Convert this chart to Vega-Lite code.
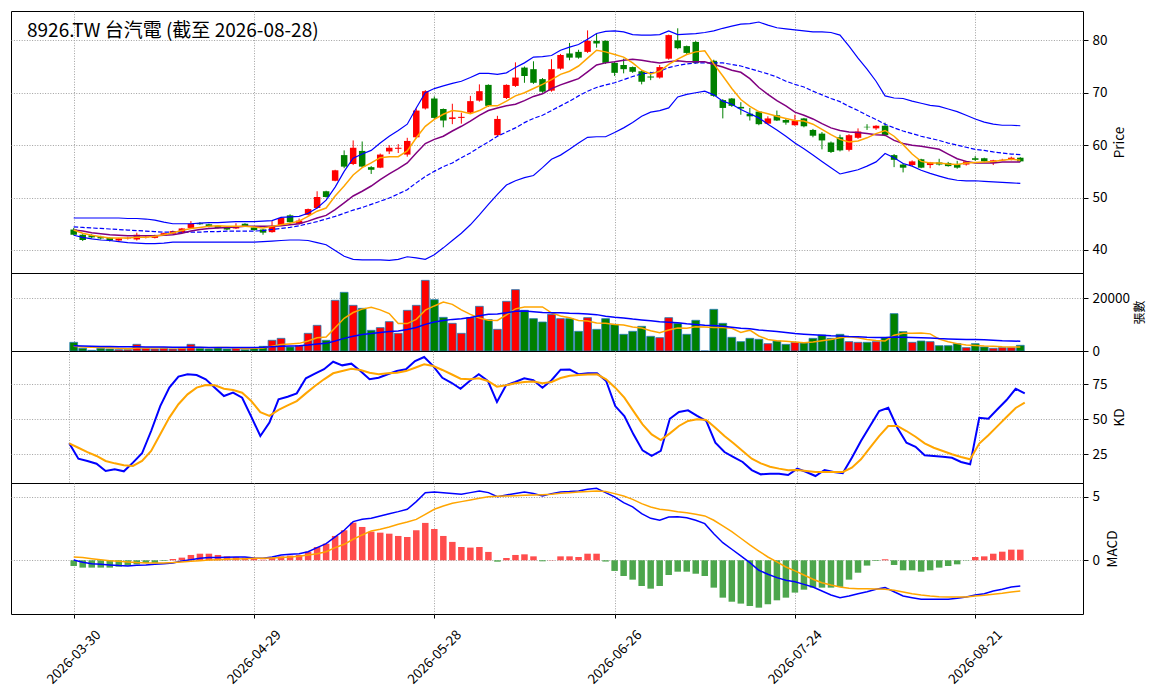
{
  "$schema": "https://vega.github.io/schema/vega-lite/v6.json",
  "background": "white",
  "padding": {"left": 10, "top": 10, "right": 5, "bottom": 5},
  "autosize": {"type": "pad"},
  "spacing": 0,
  "bounds": "flush",
  "config": {
    "font": "Noto Sans CJK TC",
    "view": {"stroke": "black", "strokeWidth": 1},
    "axis": {
      "domain": false,
      "gridColor": "#a0a0a0",
      "gridDash": [1, 1.6],
      "gridWidth": 1,
      "tickColor": "black",
      "tickSize": 5,
      "labelColor": "black",
      "labelFontSize": 13.5,
      "labelFlush": false,
      "labelOverlap": false,
      "titleColor": "black",
      "titleFontSize": 13.5,
      "titleFontWeight": "normal",
      "titleBaseline": "top"
    }
  },
  "datasets": {
    "px": [
      {"i":0,"o":43.9,"h":44.2,"l":42.8,"c":42.9,"v":3290,"m5":43.8,"m10":43.8,"mid":44.4,"up":46.1,"lo":42.8,"v5":1770,"v20":2000,"k":32.7,"d":32.7,"dif":0.02,"dea":0.26,"hs":-0.45},
      {"i":1,"o":42.9,"h":43.0,"l":41.7,"c":41.9,"v":1010,"m5":43.2,"m10":43.6,"mid":44.3,"up":46.1,"lo":42.4,"v5":1500,"v20":1900,"k":21.6,"d":29.5,"dif":-0.16,"dea":0.21,"hs":-0.58},
      {"i":2,"o":42.8,"h":43.0,"l":42.2,"c":42.4,"v":250,"m5":42.8,"m10":43.3,"mid":44.2,"up":46.1,"lo":42.1,"v5":1400,"v20":1800,"k":20.0,"d":26.4,"dif":-0.27,"dea":0.13,"hs":-0.58},
      {"i":3,"o":42.5,"h":42.7,"l":42.0,"c":42.2,"v":1010,"m5":42.5,"m10":43.1,"mid":44.1,"up":46.1,"lo":41.9,"v5":1300,"v20":1700,"k":18.0,"d":23.6,"dif":-0.32,"dea":0.05,"hs":-0.58},
      {"i":4,"o":42.3,"h":42.4,"l":41.6,"c":41.8,"v":760,"m5":42.3,"m10":42.9,"mid":44.0,"up":46.1,"lo":41.8,"v5":1200,"v20":1700,"k":12.8,"d":20.0,"dif":-0.37,"dea":-0.03,"hs":-0.58},
      {"i":5,"o":41.8,"h":42.3,"l":41.6,"c":42.2,"v":500,"m5":42.3,"m10":42.8,"mid":43.9,"up":46.1,"lo":41.6,"v5":1000,"v20":1600,"k":14.0,"d":18.3,"dif":-0.42,"dea":-0.08,"hs":-0.5},
      {"i":6,"o":42.2,"h":42.5,"l":42.0,"c":42.3,"v":500,"m5":42.3,"m10":42.7,"mid":43.8,"up":46.0,"lo":41.4,"v5":900,"v20":1600,"k":12.6,"d":16.9,"dif":-0.45,"dea":-0.13,"hs":-0.42},
      {"i":7,"o":42.0,"h":43.3,"l":41.8,"c":42.9,"v":2530,"m5":42.4,"m10":42.7,"mid":43.7,"up":46.0,"lo":41.3,"v5":1100,"v20":1600,"k":18.8,"d":16.4,"dif":-0.4,"dea":-0.18,"hs":-0.32},
      {"i":8,"o":42.4,"h":42.7,"l":42.2,"c":42.5,"v":1010,"m5":42.4,"m10":42.7,"mid":43.6,"up":45.9,"lo":41.2,"v5":1100,"v20":1500,"k":25.5,"d":20.0,"dif":-0.37,"dea":-0.21,"hs":-0.21},
      {"i":9,"o":42.3,"h":42.9,"l":42.2,"c":42.8,"v":760,"m5":42.6,"m10":42.7,"mid":43.5,"up":45.7,"lo":41.2,"v5":1100,"v20":1500,"k":41.5,"d":27.2,"dif":-0.32,"dea":-0.21,"hs":-0.21},
      {"i":10,"o":42.8,"h":43.3,"l":42.7,"c":43.2,"v":1010,"m5":42.9,"m10":42.8,"mid":43.4,"up":45.3,"lo":41.3,"v5":1200,"v20":1500,"k":59.4,"d":39.1,"dif":-0.27,"dea":-0.21,"hs":-0.05},
      {"i":11,"o":43.1,"h":43.7,"l":43.0,"c":43.6,"v":760,"m5":43.3,"m10":42.9,"mid":43.4,"up":45.0,"lo":41.5,"v5":1200,"v20":1400,"k":72.6,"d":51.1,"dif":-0.21,"dea":-0.18,"hs":0.1},
      {"i":12,"o":43.3,"h":44.2,"l":43.2,"c":44.1,"v":1010,"m5":43.7,"m10":43.2,"mid":43.4,"up":45.0,"lo":41.5,"v5":1100,"v20":1400,"k":80.5,"d":60.7,"dif":-0.05,"dea":-0.13,"hs":0.21},
      {"i":13,"o":44.2,"h":45.5,"l":44.1,"c":45.0,"v":2530,"m5":44.1,"m10":43.6,"mid":43.4,"up":45.0,"lo":41.5,"v5":1300,"v20":1400,"k":82.2,"d":67.8,"dif":0.05,"dea":-0.08,"hs":0.42},
      {"i":14,"o":45.1,"h":45.3,"l":44.8,"c":44.9,"v":1010,"m5":44.3,"m10":43.9,"mid":43.4,"up":45.1,"lo":41.5,"v5":1300,"v20":1400,"k":81.7,"d":72.6,"dif":0.16,"dea":-0.03,"hs":0.52},
      {"i":15,"o":44.9,"h":45.0,"l":44.3,"c":44.5,"v":760,"m5":44.5,"m10":44.1,"mid":43.5,"up":45.2,"lo":41.5,"v5":1200,"v20":1300,"k":78.6,"d":74.5,"dif":0.21,"dea":0.02,"hs":0.52},
      {"i":16,"o":44.6,"h":44.7,"l":44.1,"c":44.2,"v":1265,"m5":44.6,"m10":44.2,"mid":43.5,"up":45.2,"lo":41.5,"v5":1300,"v20":1300,"k":72.6,"d":74.3,"dif":0.21,"dea":0.05,"hs":0.42},
      {"i":17,"o":44.3,"h":44.4,"l":43.8,"c":43.9,"v":760,"m5":44.5,"m10":44.3,"mid":43.6,"up":45.3,"lo":41.5,"v5":1300,"v20":1300,"k":66.6,"d":71.8,"dif":0.24,"dea":0.08,"hs":0.31},
      {"i":18,"o":44.1,"h":45.1,"l":44.0,"c":44.5,"v":1010,"m5":44.5,"m10":44.4,"mid":43.6,"up":45.4,"lo":41.5,"v5":1100,"v20":1300,"k":69.0,"d":70.9,"dif":0.26,"dea":0.1,"hs":0.26},
      {"i":19,"o":45.0,"h":45.1,"l":44.4,"c":44.5,"v":500,"m5":44.5,"m10":44.5,"mid":43.6,"up":45.4,"lo":41.5,"v5":900,"v20":1300,"k":65.4,"d":69.0,"dif":0.26,"dea":0.13,"hs":0.21},
      {"i":20,"o":44.3,"h":44.4,"l":43.7,"c":43.8,"v":1265,"m5":44.4,"m10":44.5,"mid":43.6,"up":45.4,"lo":41.5,"v5":1000,"v20":1300,"k":51.8,"d":63.0,"dif":0.18,"dea":0.16,"hs":0.1},
      {"i":21,"o":43.9,"h":44.0,"l":42.9,"c":43.3,"v":1770,"m5":44.2,"m10":44.5,"mid":43.7,"up":45.5,"lo":41.6,"v5":1100,"v20":1400,"k":37.9,"d":55.1,"dif":0.16,"dea":0.16,"hs":0.05},
      {"i":22,"o":43.4,"h":45.5,"l":43.3,"c":44.6,"v":4050,"m5":44.5,"m10":44.5,"mid":43.9,"up":45.6,"lo":41.7,"v5":1800,"v20":1600,"k":47.5,"d":52.3,"dif":0.26,"dea":0.18,"hs":0.21},
      {"i":23,"o":44.7,"h":46.3,"l":44.6,"c":46.1,"v":4800,"m5":44.8,"m10":44.6,"mid":44.1,"up":46.2,"lo":41.8,"v5":2500,"v20":1800,"k":64.2,"d":56.6,"dif":0.42,"dea":0.21,"hs":0.31},
      {"i":24,"o":46.6,"h":46.8,"l":45.2,"c":45.3,"v":1518,"m5":45.1,"m10":44.8,"mid":44.3,"up":46.3,"lo":41.9,"v5":2700,"v20":1900,"k":66.1,"d":59.9,"dif":0.47,"dea":0.26,"hs":0.37},
      {"i":25,"o":45.0,"h":46.0,"l":44.9,"c":45.6,"v":2000,"m5":45.5,"m10":45.0,"mid":44.6,"up":46.4,"lo":41.9,"v5":2900,"v20":2000,"k":68.5,"d":63.0,"dif":0.52,"dea":0.31,"hs":0.42},
      {"i":26,"o":46.7,"h":47.9,"l":46.6,"c":47.8,"v":6705,"m5":46.4,"m10":45.5,"mid":45.0,"up":47.0,"lo":41.8,"v5":3800,"v20":2300,"k":79.3,"d":68.5,"dif":0.68,"dea":0.42,"hs":0.68},
      {"i":27,"o":48.0,"h":51.2,"l":47.9,"c":50.1,"v":9740,"m5":47.4,"m10":46.1,"mid":45.4,"up":48.0,"lo":41.4,"v5":5000,"v20":2700,"k":82.6,"d":73.8,"dif":1.0,"dea":0.52,"hs":1.05},
      {"i":28,"o":51.2,"h":51.3,"l":50.0,"c":50.1,"v":4050,"m5":48.0,"m10":46.6,"mid":45.9,"up":49.5,"lo":41.0,"v5":5300,"v20":2900,"k":85.8,"d":78.6,"dif":1.31,"dea":0.68,"hs":1.31},
      {"i":29,"o":53.2,"h":55.3,"l":53.1,"c":55.2,"v":19230,"m5":50.3,"m10":47.7,"mid":46.4,"up":52.0,"lo":39.9,"v5":8800,"v20":3800,"k":91.2,"d":82.9,"dif":1.84,"dea":1.0,"hs":1.92},
      {"i":30,"o":58.1,"h":59.0,"l":55.6,"c":55.9,"v":22260,"m5":52.2,"m10":49.0,"mid":47.0,"up":55.0,"lo":38.8,"v5":12400,"v20":4800,"k":88.6,"d":84.5,"dif":2.37,"dea":1.26,"hs":2.37},
      {"i":31,"o":56.4,"h":60.9,"l":56.2,"c":59.5,"v":17330,"m5":54.3,"m10":50.3,"mid":47.6,"up":57.5,"lo":38.2,"v5":14600,"v20":5600,"k":89.8,"d":86.2,"dif":3.05,"dea":1.66,"hs":2.97},
      {"i":32,"o":58.9,"h":60.7,"l":55.7,"c":55.9,"v":16190,"m5":55.7,"m10":51.2,"mid":48.1,"up":58.3,"lo":38.1,"v5":15900,"v20":6300,"k":84.5,"d":85.3,"dif":3.23,"dea":2.0,"hs":2.63},
      {"i":33,"o":55.8,"h":56.0,"l":54.5,"c":55.3,"v":7840,"m5":56.6,"m10":52.2,"mid":48.7,"up":59.0,"lo":38.1,"v5":16600,"v20":6600,"k":78.6,"d":83.3,"dif":3.31,"dea":2.32,"hs":2.26},
      {"i":34,"o":55.7,"h":58.4,"l":55.6,"c":58.2,"v":8860,"m5":57.6,"m10":53.4,"mid":49.3,"up":60.4,"lo":38.1,"v5":15600,"v20":7000,"k":79.7,"d":82.2,"dif":3.5,"dea":2.45,"hs":2.18},
      {"i":35,"o":58.8,"h":60.0,"l":58.3,"c":59.5,"v":11130,"m5":57.8,"m10":54.5,"mid":49.9,"up":61.7,"lo":38.0,"v5":14200,"v20":7400,"k":82.2,"d":82.9,"dif":3.68,"dea":2.63,"hs":2.1},
      {"i":36,"o":59.3,"h":60.2,"l":58.5,"c":59.5,"v":6705,"m5":57.8,"m10":55.5,"mid":50.7,"up":62.8,"lo":38.2,"v5":10400,"v20":7600,"k":84.5,"d":83.3,"dif":3.84,"dea":2.84,"hs":1.92},
      {"i":37,"o":58.2,"h":61.4,"l":57.8,"c":60.8,"v":15430,"m5":58.9,"m10":56.6,"mid":51.5,"up":64.0,"lo":38.7,"v5":10400,"v20":8200,"k":85.8,"d":84.5,"dif":4.03,"dea":3.02,"hs":1.84},
      {"i":38,"o":61.5,"h":67.0,"l":61.3,"c":66.6,"v":17330,"m5":61.4,"m10":58.5,"mid":52.8,"up":67.1,"lo":38.5,"v5":12000,"v20":8900,"k":91.7,"d":86.9,"dif":4.63,"dea":3.23,"hs":2.37},
      {"i":39,"o":67.0,"h":70.5,"l":66.8,"c":70.3,"v":26810,"m5":63.6,"m10":60.3,"mid":54.0,"up":70.0,"lo":38.2,"v5":15500,"v20":10100,"k":94.6,"d":89.3,"dif":5.34,"dea":3.63,"hs":2.95},
      {"i":40,"o":68.9,"h":69.3,"l":65.0,"c":65.2,"v":19480,"m5":64.9,"m10":61.1,"mid":55.0,"up":70.8,"lo":39.1,"v5":17100,"v20":11000,"k":88.1,"d":88.1,"dif":5.39,"dea":4.03,"hs":2.47},
      {"i":41,"o":66.9,"h":67.0,"l":63.4,"c":64.7,"v":12770,"m5":65.9,"m10":61.7,"mid":55.9,"up":71.3,"lo":40.4,"v5":18600,"v20":11600,"k":79.7,"d":85.3,"dif":5.34,"dea":4.29,"hs":1.92},
      {"i":42,"o":65.0,"h":67.9,"l":64.0,"c":65.3,"v":10500,"m5":66.6,"m10":62.7,"mid":56.6,"up":71.8,"lo":41.8,"v5":17700,"v20":12000,"k":76.1,"d":82.2,"dif":5.28,"dea":4.5,"hs":1.45},
      {"i":43,"o":65.2,"h":66.2,"l":64.1,"c":65.4,"v":6705,"m5":66.4,"m10":63.6,"mid":57.6,"up":72.2,"lo":43.2,"v5":15600,"v20":12200,"k":71.8,"d":79.0,"dif":5.21,"dea":4.63,"hs":1.05},
      {"i":44,"o":66.2,"h":69.4,"l":66.0,"c":68.4,"v":12650,"m5":66.0,"m10":64.6,"mid":58.5,"up":72.9,"lo":44.8,"v5":13900,"v20":12700,"k":77.4,"d":78.6,"dif":5.34,"dea":4.76,"hs":1.0},
      {"i":45,"o":68.5,"h":71.6,"l":68.3,"c":70.3,"v":16950,"m5":66.6,"m10":65.7,"mid":59.6,"up":73.7,"lo":46.7,"v5":12500,"v20":13400,"k":82.2,"d":79.3,"dif":5.47,"dea":4.9,"hs":1.05},
      {"i":46,"o":71.5,"h":71.6,"l":67.3,"c":67.5,"v":11890,"m5":67.5,"m10":66.6,"mid":60.6,"up":73.7,"lo":48.7,"v5":11700,"v20":13900,"k":77.4,"d":77.4,"dif":5.34,"dea":5.02,"hs":0.66},
      {"i":47,"o":61.9,"h":65.6,"l":61.7,"c":65.0,"v":8220,"m5":67.5,"m10":67.1,"mid":61.7,"up":73.5,"lo":50.6,"v5":11600,"v20":14000,"k":62.3,"d":73.3,"dif":5.02,"dea":5.05,"hs":-0.11},
      {"i":48,"o":69.0,"h":71.6,"l":68.8,"c":71.5,"v":18840,"m5":68.4,"m10":67.5,"mid":62.5,"up":73.8,"lo":52.4,"v5":13700,"v20":14500,"k":74.3,"d":74.3,"dif":5.15,"dea":5.07,"hs":0.18},
      {"i":49,"o":71.3,"h":75.8,"l":71.1,"c":72.9,"v":23280,"m5":69.4,"m10":67.8,"mid":63.3,"up":74.8,"lo":53.2,"v5":16000,"v20":15100,"k":76.7,"d":75.7,"dif":5.28,"dea":5.1,"hs":0.42},
      {"i":50,"o":74.8,"h":75.0,"l":71.9,"c":73.2,"v":15430,"m5":70.0,"m10":68.5,"mid":64.3,"up":75.7,"lo":53.8,"v5":16700,"v20":15200,"k":79.3,"d":76.7,"dif":5.39,"dea":5.13,"hs":0.47},
      {"i":51,"o":74.5,"h":76.0,"l":71.7,"c":71.9,"v":12270,"m5":70.8,"m10":69.3,"mid":65.1,"up":76.8,"lo":54.2,"v5":16700,"v20":14900,"k":77.9,"d":77.0,"dif":5.28,"dea":5.15,"hs":0.31},
      {"i":52,"o":72.6,"h":72.8,"l":70.0,"c":70.2,"v":11000,"m5":71.6,"m10":69.8,"mid":65.7,"up":76.9,"lo":55.7,"v5":16700,"v20":14600,"k":72.6,"d":75.7,"dif":5.07,"dea":5.18,"hs":-0.08},
      {"i":53,"o":70.4,"h":76.4,"l":70.2,"c":74.5,"v":13910,"m5":72.5,"m10":70.8,"mid":66.6,"up":77.1,"lo":57.3,"v5":14500,"v20":14500,"k":77.9,"d":76.7,"dif":5.26,"dea":5.21,"hs":0.02},
      {"i":54,"o":74.6,"h":77.4,"l":74.4,"c":77.2,"v":12270,"m5":73.5,"m10":71.5,"mid":67.5,"up":78.1,"lo":58.1,"v5":13300,"v20":14500,"k":85.5,"d":79.5,"dif":5.39,"dea":5.3,"hs":0.31},
      {"i":55,"o":77.5,"h":79.5,"l":76.2,"c":76.7,"v":12270,"m5":74.1,"m10":72.1,"mid":68.4,"up":78.7,"lo":59.2,"v5":12600,"v20":14300,"k":85.6,"d":81.2,"dif":5.42,"dea":5.34,"hs":0.31},
      {"i":56,"o":77.8,"h":78.2,"l":76.5,"c":76.7,"v":7460,"m5":75.1,"m10":72.7,"mid":69.4,"up":79.2,"lo":60.4,"v5":11600,"v20":14200,"k":82.2,"d":81.7,"dif":5.47,"dea":5.39,"hs":0.26},
      {"i":57,"o":77.8,"h":81.9,"l":77.6,"c":79.9,"v":12650,"m5":76.6,"m10":74.0,"mid":70.3,"up":80.2,"lo":61.5,"v5":11400,"v20":14000,"k":82.9,"d":82.0,"dif":5.6,"dea":5.43,"hs":0.52},
      {"i":58,"o":79.9,"h":81.3,"l":78.6,"c":79.4,"v":8220,"m5":78.1,"m10":75.3,"mid":71.0,"up":81.3,"lo":61.6,"v5":10600,"v20":13800,"k":82.9,"d":82.2,"dif":5.68,"dea":5.47,"hs":0.52},
      {"i":59,"o":79.9,"h":80.0,"l":75.5,"c":75.7,"v":12270,"m5":77.8,"m10":75.7,"mid":71.5,"up":81.7,"lo":61.6,"v5":10500,"v20":13200,"k":77.4,"d":78.6,"dif":5.34,"dea":5.42,"hs":-0.1},
      {"i":60,"o":75.7,"h":75.9,"l":73.2,"c":73.8,"v":10120,"m5":77.3,"m10":75.9,"mid":71.9,"up":81.8,"lo":62.4,"v5":10100,"v20":12800,"k":59.4,"d":72.6,"dif":5.0,"dea":5.26,"hs":-0.84},
      {"i":61,"o":75.3,"h":76.5,"l":73.7,"c":74.5,"v":6325,"m5":76.8,"m10":76.2,"mid":72.5,"up":81.6,"lo":63.3,"v5":9900,"v20":12500,"k":52.3,"d":65.4,"dif":4.55,"dea":5.07,"hs":-1.24},
      {"i":62,"o":74.9,"h":75.0,"l":73.8,"c":74.0,"v":7460,"m5":75.7,"m10":76.4,"mid":73.1,"up":81.1,"lo":64.3,"v5":9100,"v20":12100,"k":39.1,"d":55.8,"dif":4.21,"dea":4.81,"hs":-1.53},
      {"i":63,"o":74.1,"h":74.3,"l":71.6,"c":72.1,"v":9360,"m5":74.3,"m10":76.2,"mid":73.6,"up":81.0,"lo":65.5,"v5":8700,"v20":11800,"k":27.6,"d":46.3,"dif":3.68,"dea":4.47,"hs":-2.03},
      {"i":64,"o":73.1,"h":74.0,"l":72.4,"c":72.9,"v":5570,"m5":73.6,"m10":75.9,"mid":73.8,"up":81.0,"lo":66.3,"v5":7700,"v20":11500,"k":23.6,"d":39.1,"dif":3.31,"dea":4.21,"hs":-2.24},
      {"i":65,"o":72.9,"h":75.3,"l":72.7,"c":74.9,"v":5060,"m5":74.1,"m10":75.7,"mid":74.1,"up":81.1,"lo":66.6,"v5":6900,"v20":11100,"k":27.2,"d":35.0,"dif":3.16,"dea":4.03,"hs":-2.03},
      {"i":66,"o":76.5,"h":81.1,"l":76.3,"c":81.0,"v":12650,"m5":75.4,"m10":75.9,"mid":74.8,"up":81.8,"lo":67.1,"v5":8000,"v20":10900,"k":50.3,"d":39.8,"dif":3.42,"dea":3.95,"hs":-1.16},
      {"i":67,"o":80.0,"h":82.3,"l":78.3,"c":78.5,"v":10500,"m5":76.4,"m10":76.1,"mid":75.2,"up":81.1,"lo":69.2,"v5":8700,"v20":10700,"k":55.1,"d":45.1,"dif":3.44,"dea":3.84,"hs":-0.9},
      {"i":68,"o":78.9,"h":79.0,"l":77.4,"c":77.6,"v":6325,"m5":77.3,"m10":75.9,"mid":75.5,"up":81.2,"lo":69.7,"v5":8600,"v20":10300,"k":56.3,"d":48.7,"dif":3.36,"dea":3.76,"hs":-0.9},
      {"i":69,"o":79.7,"h":79.9,"l":75.5,"c":75.7,"v":11640,"m5":77.8,"m10":75.9,"mid":75.7,"up":81.3,"lo":70.0,"v5":9200,"v20":10100,"k":52.3,"d":49.9,"dif":3.16,"dea":3.63,"hs":-1.06},
      {"i":70,"o":75.7,"h":75.7,"l":75.7,"c":75.7,"v":0,"m5":78.0,"m10":75.9,"mid":75.7,"up":81.5,"lo":70.3,"v5":9100,"v20":9800,"k":48.7,"d":49.4,"dif":2.89,"dea":3.5,"hs":-1.24},
      {"i":71,"o":76.1,"h":76.3,"l":69.2,"c":69.4,"v":15810,"m5":75.5,"m10":75.4,"mid":75.7,"up":81.8,"lo":69.6,"v5":8900,"v20":9700,"k":33.1,"d":43.9,"dif":2.1,"dea":3.16,"hs":-2.16},
      {"i":72,"o":68.6,"h":68.8,"l":65.1,"c":67.1,"v":10500,"m5":73.2,"m10":74.9,"mid":75.7,"up":82.3,"lo":68.4,"v5":8900,"v20":9400,"k":26.4,"d":37.9,"dif":1.39,"dea":2.71,"hs":-2.95},
      {"i":73,"o":68.9,"h":69.0,"l":67.3,"c":67.5,"v":5190,"m5":70.8,"m10":74.3,"mid":75.4,"up":82.7,"lo":67.8,"v5":8600,"v20":9000,"k":22.8,"d":32.7,"dif":0.87,"dea":2.26,"hs":-3.27},
      {"i":74,"o":67.3,"h":68.2,"l":65.8,"c":67.0,"v":3540,"m5":68.7,"m10":73.9,"mid":75.1,"up":83.1,"lo":66.8,"v5":7000,"v20":8600,"k":19.3,"d":27.2,"dif":0.34,"dea":1.74,"hs":-3.42},
      {"i":75,"o":66.0,"h":67.1,"l":64.7,"c":65.5,"v":4800,"m5":67.4,"m10":72.7,"mid":74.6,"up":83.2,"lo":66.0,"v5":7900,"v20":8400,"k":13.5,"d":21.6,"dif":-0.19,"dea":1.21,"hs":-3.61},
      {"i":76,"o":66.4,"h":66.5,"l":63.8,"c":64.0,"v":4430,"m5":66.4,"m10":71.0,"mid":74.1,"up":83.5,"lo":65.2,"v5":5700,"v20":8000,"k":10.4,"d":18.3,"dif":-0.79,"dea":0.73,"hs":-3.74},
      {"i":77,"o":64.1,"h":65.5,"l":64.0,"c":65.1,"v":2780,"m5":66.0,"m10":69.7,"mid":73.6,"up":82.9,"lo":64.0,"v5":4400,"v20":7700,"k":10.9,"d":15.9,"dif":-1.1,"dea":0.26,"hs":-3.47},
      {"i":78,"o":65.7,"h":66.6,"l":64.6,"c":64.7,"v":3795,"m5":65.5,"m10":68.5,"mid":73.0,"up":82.4,"lo":62.9,"v5":3900,"v20":7400,"k":10.9,"d":14.5,"dif":-1.37,"dea":-0.13,"hs":-3.16},
      {"i":79,"o":64.8,"h":65.0,"l":63.9,"c":64.3,"v":2530,"m5":65.1,"m10":67.5,"mid":72.2,"up":82.2,"lo":61.7,"v5":3700,"v20":7000,"k":9.9,"d":13.3,"dif":-1.58,"dea":-0.53,"hs":-2.95},
      {"i":80,"o":63.8,"h":65.8,"l":63.7,"c":64.7,"v":3290,"m5":64.7,"m10":66.3,"mid":71.6,"up":82.0,"lo":60.4,"v5":3400,"v20":6600,"k":14.5,"d":13.5,"dif":-1.69,"dea":-0.84,"hs":-2.55},
      {"i":81,"o":65.1,"h":65.2,"l":63.4,"c":63.6,"v":3040,"m5":64.6,"m10":65.7,"mid":71.1,"up":81.8,"lo":59.3,"v5":3100,"v20":6400,"k":12.1,"d":12.8,"dif":-1.9,"dea":-1.16,"hs":-2.32},
      {"i":82,"o":62.9,"h":63.1,"l":61.5,"c":61.8,"v":4800,"m5":64.0,"m10":65.0,"mid":70.3,"up":81.6,"lo":58.1,"v5":3400,"v20":6200,"k":9.2,"d":12.1,"dif":-2.11,"dea":-1.5,"hs":-2.16},
      {"i":83,"o":62.2,"h":62.5,"l":59.2,"c":60.9,"v":6070,"m5":63.0,"m10":64.1,"mid":69.6,"up":81.6,"lo":56.9,"v5":3900,"v20":6000,"k":13.5,"d":12.1,"dif":-2.42,"dea":-1.77,"hs":-2.16},
      {"i":84,"o":60.5,"h":60.7,"l":58.5,"c":58.7,"v":4800,"m5":62.0,"m10":63.3,"mid":68.9,"up":81.5,"lo":55.7,"v5":4400,"v20":5800,"k":12.1,"d":12.1,"dif":-2.74,"dea":-1.95,"hs":-2.16},
      {"i":85,"o":61.5,"h":62.0,"l":58.8,"c":59.0,"v":6325,"m5":61.1,"m10":62.8,"mid":68.3,"up":81.0,"lo":54.5,"v5":5000,"v20":5700,"k":11.2,"d":12.1,"dif":-2.95,"dea":-2.11,"hs":-2.1},
      {"i":86,"o":59.1,"h":62.1,"l":58.8,"c":61.9,"v":3540,"m5":60.6,"m10":62.5,"mid":67.4,"up":78.9,"lo":54.9,"v5":5400,"v20":5500,"k":22.3,"d":15.2,"dif":-2.82,"dea":-2.21,"hs":-1.53},
      {"i":87,"o":61.4,"h":63.2,"l":61.2,"c":62.6,"v":3290,"m5":60.8,"m10":62.4,"mid":66.6,"up":76.6,"lo":55.3,"v5":5000,"v20":5400,"k":34.3,"d":21.2,"dif":-2.64,"dea":-2.24,"hs":-0.98},
      {"i":88,"o":63.5,"h":64.0,"l":62.9,"c":63.4,"v":3290,"m5":61.4,"m10":62.2,"mid":65.7,"up":74.5,"lo":56.0,"v5":4400,"v20":5200,"k":45.1,"d":29.5,"dif":-2.48,"dea":-2.24,"hs":-0.42},
      {"i":89,"o":63.2,"h":63.8,"l":62.9,"c":63.7,"v":3540,"m5":62.2,"m10":62.0,"mid":64.9,"up":72.2,"lo":56.8,"v5":4000,"v20":5100,"k":55.8,"d":37.9,"dif":-2.29,"dea":-2.27,"hs":-0.05},
      {"i":90,"o":63.7,"h":64.3,"l":61.7,"c":61.9,"v":5060,"m5":62.8,"m10":61.9,"mid":64.0,"up":69.4,"lo":58.4,"v5":3800,"v20":5100,"k":58.2,"d":45.1,"dif":-2.16,"dea":-2.29,"hs":0.08},
      {"i":91,"o":58.1,"h":58.3,"l":55.8,"c":57.2,"v":14170,"m5":61.7,"m10":60.9,"mid":63.3,"up":69.0,"lo":57.6,"v5":6000,"v20":5300,"k":43.9,"d":45.1,"dif":-2.48,"dea":-2.37,"hs":-0.37},
      {"i":92,"o":56.3,"h":56.5,"l":54.8,"c":55.7,"v":7340,"m5":60.1,"m10":60.3,"mid":62.7,"up":68.9,"lo":56.5,"v5":6700,"v20":5200,"k":33.1,"d":41.5,"dif":-2.82,"dea":-2.5,"hs":-0.79},
      {"i":93,"o":56.2,"h":57.1,"l":56.0,"c":56.9,"v":3290,"m5":58.3,"m10":60.0,"mid":62.2,"up":68.4,"lo":56.0,"v5":6700,"v20":5100,"k":30.2,"d":37.4,"dif":-2.95,"dea":-2.64,"hs":-0.79},
      {"i":94,"o":57.3,"h":57.4,"l":55.6,"c":55.7,"v":3795,"m5":56.9,"m10":59.8,"mid":61.7,"up":68.0,"lo":55.2,"v5":6800,"v20":5000,"k":24.1,"d":32.7,"dif":-3.08,"dea":-2.74,"hs":-0.9},
      {"i":95,"o":56.2,"h":56.8,"l":55.6,"c":56.7,"v":3540,"m5":56.6,"m10":59.5,"mid":61.3,"up":67.6,"lo":54.6,"v5":6500,"v20":4900,"k":23.6,"d":29.5,"dif":-3.08,"dea":-2.82,"hs":-0.79},
      {"i":96,"o":56.7,"h":57.4,"l":56.1,"c":56.3,"v":2020,"m5":56.6,"m10":59.2,"mid":60.9,"up":67.4,"lo":54.1,"v5":4500,"v20":4700,"k":23.1,"d":27.2,"dif":-3.08,"dea":-2.87,"hs":-0.58},
      {"i":97,"o":56.6,"h":56.8,"l":55.9,"c":56.0,"v":2020,"m5":56.4,"m10":58.3,"mid":60.4,"up":66.9,"lo":53.6,"v5":3500,"v20":4600,"k":22.3,"d":24.8,"dif":-3.08,"dea":-2.9,"hs":-0.45},
      {"i":98,"o":56.4,"h":57.0,"l":55.5,"c":55.7,"v":2780,"m5":56.3,"m10":57.4,"mid":60.0,"up":66.4,"lo":53.3,"v5":2800,"v20":4500,"k":19.3,"d":22.8,"dif":-3.0,"dea":-2.9,"hs":-0.32},
      {"i":99,"o":56.3,"h":57.0,"l":56.1,"c":56.9,"v":1265,"m5":56.6,"m10":56.9,"mid":59.6,"up":65.7,"lo":53.2,"v5":2300,"v20":4400,"k":17.6,"d":21.2,"dif":-2.9,"dea":-2.9,"hs":-0.02},
      {"i":100,"o":57.5,"h":57.9,"l":57.0,"c":57.2,"v":2780,"m5":56.7,"m10":56.6,"mid":59.2,"up":65.0,"lo":53.2,"v5":2100,"v20":4400,"k":51.0,"d":32.5,"dif":-2.74,"dea":-2.82,"hs":0.26},
      {"i":101,"o":57.5,"h":57.6,"l":56.8,"c":56.9,"v":1518,"m5":56.8,"m10":56.6,"mid":59.0,"up":64.4,"lo":53.1,"v5":1900,"v20":4300,"k":50.3,"d":38.5,"dif":-2.64,"dea":-2.76,"hs":0.31},
      {"i":102,"o":56.6,"h":57.2,"l":56.2,"c":57.1,"v":1010,"m5":56.9,"m10":56.6,"mid":58.7,"up":64.0,"lo":53.0,"v5":1800,"v20":4100,"k":57.1,"d":45.0,"dif":-2.42,"dea":-2.68,"hs":0.52},
      {"i":103,"o":57.1,"h":57.4,"l":57.0,"c":57.2,"v":1265,"m5":57.1,"m10":56.8,"mid":58.5,"up":63.8,"lo":52.9,"v5":1600,"v20":3900,"k":63.7,"d":51.5,"dif":-2.29,"dea":-2.6,"hs":0.68},
      {"i":104,"o":57.2,"h":57.8,"l":57.1,"c":57.6,"v":1265,"m5":57.3,"m10":56.8,"mid":58.3,"up":63.8,"lo":52.8,"v5":1500,"v20":3800,"k":71.8,"d":58.0,"dif":-2.11,"dea":-2.5,"hs":0.84},
      {"i":105,"o":57.6,"h":57.7,"l":56.8,"c":56.9,"v":2150,"m5":57.1,"m10":56.8,"mid":58.2,"up":63.7,"lo":52.7,"v5":1500,"v20":3700,"k":68.5,"d":61.8,"dif":-2.03,"dea":-2.42,"hs":0.84}
    ]
  },
  "data": {"name": "px"},
  "vconcat": [
    {
      "width": 1072,
      "height": 262,
      "title": {"text": "8926.TW 台汽電 (截至 2026-08-28)", "anchor": "start", "frame": "group", "offset": -45, "dx": 16, "fontSize": 19, "fontWeight": "normal", "baseline": "alphabetic", "color": "black"},
      "encoding": {
        "x": {"field": "i", "type": "quantitative", "scale": {"domain": [-6.4, 111.4], "nice": false, "zero": false},
              "axis": {"values": [0, 20, 40, 60, 80, 100], "labels": false, "ticks": false, "title": null, "grid": true}}
      },
      "layer": [
        {
          "mark": {"type": "rule", "strokeWidth": 1},
          "encoding": {
            "y": {"field": "l", "type": "quantitative", "scale": {"domain": [35.6, 85.6], "nice": false, "zero": false},
                  "axis": {"orient": "right", "values": [40, 50, 60, 70, 80], "title": "Price", "titleAngle": 270, "labelPadding": 4, "titlePadding": 6, "grid": true}},
            "y2": {"field": "h"},
            "color": {"condition": {"test": "datum.c >= datum.o", "value": "#ff0000"}, "value": "#008000"}
          }
        },
        {
          "mark": {"type": "bar", "orient": "vertical", "size": 6.5},
          "encoding": {
            "y": {"field": "o", "type": "quantitative", "axis": {"orient": "right", "values": [40, 50, 60, 70, 80], "title": "Price", "titleAngle": 270, "labelPadding": 4, "titlePadding": 6, "grid": true}},
            "y2": {"field": "c"},
            "color": {"condition": {"test": "datum.c >= datum.o", "value": "#ff0000"}, "value": "#008000"}
          }
        },
        {"mark": {"type": "line", "color": "#0000ff", "strokeWidth": 1.2}, "encoding": {"y": {"field": "up", "type": "quantitative", "axis": {"orient": "right", "values": [40, 50, 60, 70, 80], "title": "Price", "titleAngle": 270, "labelPadding": 4, "titlePadding": 6, "grid": true}}}},
        {"mark": {"type": "line", "color": "#0000ff", "strokeWidth": 1.2}, "encoding": {"y": {"field": "lo", "type": "quantitative", "axis": {"orient": "right", "values": [40, 50, 60, 70, 80], "title": "Price", "titleAngle": 270, "labelPadding": 4, "titlePadding": 6, "grid": true}}}},
        {"mark": {"type": "line", "color": "#0000ff", "strokeWidth": 1.2, "strokeDash": [4.5, 2]}, "encoding": {"y": {"field": "mid", "type": "quantitative", "axis": {"orient": "right", "values": [40, 50, 60, 70, 80], "title": "Price", "titleAngle": 270, "labelPadding": 4, "titlePadding": 6, "grid": true}}}},
        {"mark": {"type": "line", "color": "#800080", "strokeWidth": 1.5}, "encoding": {"y": {"field": "m10", "type": "quantitative", "axis": {"orient": "right", "values": [40, 50, 60, 70, 80], "title": "Price", "titleAngle": 270, "labelPadding": 4, "titlePadding": 6, "grid": true}}}},
        {"mark": {"type": "line", "color": "#ffa500", "strokeWidth": 1.5}, "encoding": {"y": {"field": "m5", "type": "quantitative", "axis": {"orient": "right", "values": [40, 50, 60, 70, 80], "title": "Price", "titleAngle": 270, "labelPadding": 4, "titlePadding": 6, "grid": true}}}}
      ]
    },
    {
      "width": 1072,
      "height": 78,
      "encoding": {
        "x": {"field": "i", "type": "quantitative", "scale": {"domain": [-6.4, 111.4], "nice": false, "zero": false},
              "axis": {"values": [0, 20, 40, 60, 80, 100], "labels": false, "ticks": false, "title": null, "grid": true}}
      },
      "layer": [
        {
          "mark": {"type": "bar", "orient": "vertical", "size": 7.8, "stroke": "#1f77b4", "strokeWidth": 0.8},
          "encoding": {
            "y": {"field": "v", "type": "quantitative", "scale": {"domain": [0, 29600], "nice": false},
                  "axis": {"orient": "right", "values": [0, 20000], "format": "d", "title": "張數", "titleFontSize": 12, "titleAngle": 270, "labelPadding": 4, "titlePadding": 5, "grid": true}},
            "color": {"condition": {"test": "datum.c >= datum.o", "value": "#ff0000"}, "value": "#008000"}
          }
        },
        {"mark": {"type": "line", "color": "#ffa500", "strokeWidth": 1.5}, "encoding": {"y": {"field": "v5", "type": "quantitative", "axis": {"orient": "right", "values": [0, 20000], "format": "d", "title": "張數", "titleFontSize": 12, "titleAngle": 270, "labelPadding": 4, "titlePadding": 5, "grid": true}}}},
        {"mark": {"type": "line", "color": "#0000ff", "strokeWidth": 1.5}, "encoding": {"y": {"field": "v20", "type": "quantitative", "axis": {"orient": "right", "values": [0, 20000], "format": "d", "title": "張數", "titleFontSize": 12, "titleAngle": 270, "labelPadding": 4, "titlePadding": 5, "grid": true}}}}
      ]
    },
    {
      "width": 1072,
      "height": 132,
      "encoding": {
        "x": {"field": "i", "type": "quantitative", "scale": {"domain": [-6.4, 111.4], "nice": false, "zero": false},
              "axis": {"values": [0, 20, 40, 60, 80, 100], "labels": false, "ticks": false, "title": null, "grid": true}}
      },
      "layer": [
        {
          "data": {"values": [{"lvl": 80}, {"lvl": 20}]},
          "mark": {"type": "rule", "color": "#808080", "strokeWidth": 1, "strokeDash": [1.5, 1.5]},
          "encoding": {
            "x": {"datum": 0, "type": "quantitative"},
            "x2": {"datum": 105},
            "y": {"field": "lvl", "type": "quantitative", "scale": {"domain": [4.2, 98.9], "nice": false, "zero": false},
                  "axis": {"orient": "right", "values": [25, 50, 75], "title": "KD", "titleAngle": 270, "labelPadding": 4, "titlePadding": 6, "grid": true}}
          }
        },
        {"mark": {"type": "line", "color": "#0000ff", "strokeWidth": 2}, "encoding": {"y": {"field": "k", "type": "quantitative", "axis": {"orient": "right", "values": [25, 50, 75], "title": "KD", "titleAngle": 270, "labelPadding": 4, "titlePadding": 6, "grid": true}}}},
        {"mark": {"type": "line", "color": "#ffa500", "strokeWidth": 2}, "encoding": {"y": {"field": "d", "type": "quantitative", "axis": {"orient": "right", "values": [25, 50, 75], "title": "KD", "titleAngle": 270, "labelPadding": 4, "titlePadding": 6, "grid": true}}}}
      ]
    },
    {
      "width": 1072,
      "height": 131,
      "encoding": {
        "x": {"field": "i", "type": "quantitative", "scale": {"domain": [-6.4, 111.4], "nice": false, "zero": false},
              "axis": {"values": [0, 20, 40, 60, 80, 100], "title": null, "grid": true, "tickSize": 4, "labelAngle": -45, "labelAlign": "center", "labelBaseline": "middle", "labelPadding": 39,
                       "labelExpr": "datum.value == 0 ? '2026-03-30' : datum.value == 20 ? '2026-04-29' : datum.value == 40 ? '2026-05-28' : datum.value == 60 ? '2026-06-26' : datum.value == 80 ? '2026-07-24' : '2026-08-21'"}}
      },
      "layer": [
        {
          "mark": {"type": "bar", "orient": "vertical", "size": 6.5},
          "encoding": {
            "y": {"field": "hs", "type": "quantitative", "scale": {"domain": [-4.24, 6.1], "nice": false, "zero": false},
                  "axis": {"orient": "right", "values": [0, 5], "title": "MACD", "titleAngle": 270, "labelPadding": 4, "titlePadding": 6, "grid": true}},
            "y2": {"datum": 0},
            "color": {"condition": {"test": "datum.hs >= 0", "value": "#ff4d4d"}, "value": "#4da64d"}
          }
        },
        {
          "data": {"values": [{"z": 0}]},
          "mark": {"type": "rule", "color": "#808080", "strokeWidth": 1, "strokeDash": [1.5, 1.5]},
          "encoding": {
            "x": {"datum": -6.4, "type": "quantitative"},
            "x2": {"datum": 111.4},
            "y": {"field": "z", "type": "quantitative", "axis": {"orient": "right", "values": [0, 5], "title": "MACD", "titleAngle": 270, "labelPadding": 4, "titlePadding": 6, "grid": true}}
          }
        },
        {"mark": {"type": "line", "color": "#0000ff", "strokeWidth": 1.5}, "encoding": {"y": {"field": "dif", "type": "quantitative", "axis": {"orient": "right", "values": [0, 5], "title": "MACD", "titleAngle": 270, "labelPadding": 4, "titlePadding": 6, "grid": true}}}},
        {"mark": {"type": "line", "color": "#ffa500", "strokeWidth": 1.5}, "encoding": {"y": {"field": "dea", "type": "quantitative", "axis": {"orient": "right", "values": [0, 5], "title": "MACD", "titleAngle": 270, "labelPadding": 4, "titlePadding": 6, "grid": true}}}}
      ]
    }
  ]
}
